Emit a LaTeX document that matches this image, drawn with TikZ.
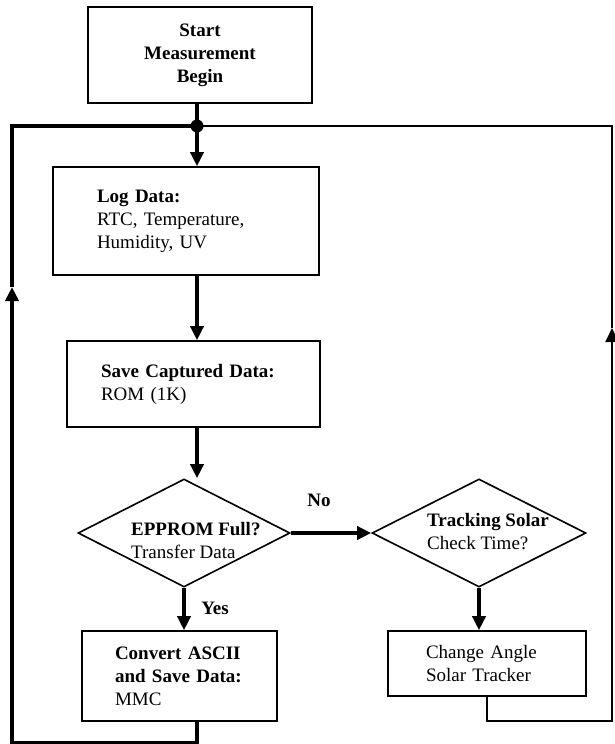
\documentclass[tikz,border=0pt]{standalone}
\usepackage{fontspec}
\setmainfont{Liberation Serif}
\usetikzlibrary{shapes.geometric,arrows.meta,positioning,calc}

\begin{document}
\begin{tikzpicture}[
    x=1pt, y=-1pt,
    txt/.style={font=\fontsize{19}{23}\selectfont},
    stepbox/.style={rectangle, draw, line width=1.6pt, txt, align=left, inner ysep=2pt},
    decision/.style={diamond, draw, line width=1.6pt, inner sep=0pt, minimum width=212, minimum height=108},
    dtext/.style={txt, align=left, inner sep=0pt, anchor=west},
    flowline/.style={line width=3.6pt},
    flow/.style={flowline, -{Triangle[length=14pt,width=13pt]}},
    thinline/.style={line width=2pt},
    thinflow/.style={thinline, -{Triangle[length=14pt,width=13pt]}}
]
\useasboundingbox (0,0) rectangle (614,744);

% Nodes
\node[stepbox, align=center, minimum width=224, minimum height=96] (start) at (200,55)
    {\textbf{Start}\\\textbf{Measurement}\\\textbf{Begin}};
\node[stepbox, text width=178, inner xsep=44, minimum height=108] (log) at (186,221)
    {\textbf{Log Data:}\\RTC, Temperature,\\Humidity, UV};
\node[stepbox, text width=185, inner xsep=34, minimum height=86] (save) at (193.5,384)
    {\textbf{Save Captured Data:}\\ROM (1K)};
\node[decision] (epp) at (184,533) {};
\node[dtext] (epptext) at (131,540) {\textbf{EPPROM Full?}\\Transfer Data};
\node[decision, minimum width=214] (track) at (479,533) {};
\node[dtext] (tracktext) at (427,532) {\textbf{Tracking Solar}\\Check Time?};
\node[stepbox, text width=129, inner xsep=33, minimum height=90] (conv) at (179.5,676)
    {\textbf{Convert ASCII}\\\textbf{and Save Data:}\\MMC};
\node[stepbox, text width=122, inner xsep=38, minimum height=65] (chg) at (487,663.5)
    {Change Angle\\Solar Tracker};
\node[txt, font=\fontsize{19}{23}\selectfont\bfseries] (lblno) at (319,500) {No};
\node[txt, font=\fontsize{19}{23}\selectfont\bfseries] (lblyes) at (215,608) {Yes};

% Loop points
\coordinate (junc) at (197,126);
\coordinate (ltop) at (12,126);
\coordinate (larr) at (12,287);
\coordinate (lbot) at (12,743);
\coordinate (rtop) at (612,126);
\coordinate (rarr) at (612,328);
\coordinate (rbot) at (612,721);

% Edges
\draw[flowline] (start.south -| junc) -- (junc);
\fill (junc) circle (6.5);
\draw[flow] (junc) -- (junc |- log.north);
\draw[flow] (junc |- log.south) -- (junc |- save.north);
\draw[flow] (junc |- save.south) -- (junc |- epp.north);
\draw[flow] (epp.east) -- (track.west);
\draw[flow] (epp.south) -- (epp.south |- conv.north);
\draw[flow] (track.south) -- (track.south |- chg.north);

% Return loops
\draw[flow] (conv.south -| junc) |- (lbot) -- (larr);
\draw[flowline] (larr) -- (ltop) -- (junc);
\draw[thinflow] (chg.south) |- (rbot) -- (rarr);
\draw[thinline] (rarr) -- (rtop) -- (junc);
\end{tikzpicture}
\end{document}
